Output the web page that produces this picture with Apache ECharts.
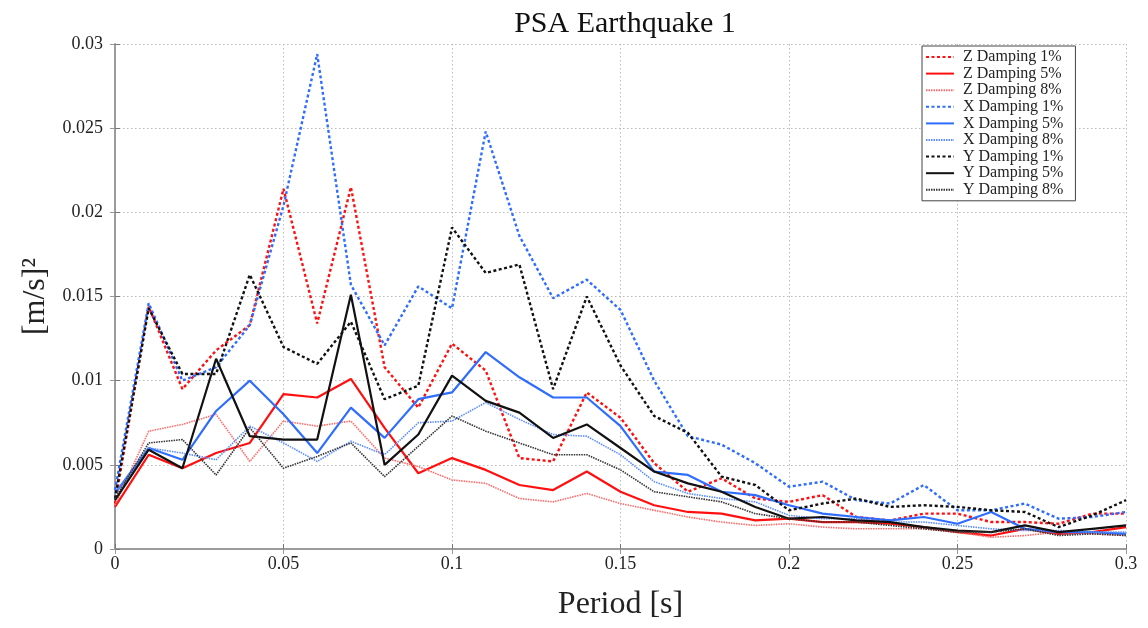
<!DOCTYPE html>
<html><head><meta charset="utf-8">
<script src="https://cdn.jsdelivr.net/npm/echarts@6/dist/echarts.min.js"></script>
<style>html,body{margin:0;padding:0;background:#fff}#c{width:1148px;height:628px}</style>
</head><body><div id="c"></div>
<script>
const periods = [0,0.01,0.02,0.03,0.04,0.05,0.06,0.07,0.08,0.09,0.1,0.11,0.12,0.13,0.14,0.15,0.16,0.17,0.18,0.19,0.2,0.21,0.22,0.23,0.24,0.25,0.26,0.27,0.28,0.29,0.3];
const xTicks = [0,0.05,0.1,0.15,0.2,0.25,0.3];
const yTicks = [0,0.005,0.01,0.015,0.02,0.025,0.03];
const seriesNames = ['Z Damping 1%','Z Damping 5%','Z Damping 8%','X Damping 1%','X Damping 5%','X Damping 8%','Y Damping 1%','Y Damping 5%','Y Damping 8%'];
const z1 = [0.0027,0.0144,0.0095,0.0118,0.0133,0.0214,0.0134,0.0215,0.0108,0.0084,0.0122,0.0106,0.0054,0.0052,0.0093,0.0078,0.0051,0.0034,0.0042,0.0030,0.0028,0.0032,0.0019,0.0017,0.0021,0.0021,0.0016,0.0016,0.0015,0.0021,0.0021];
const z5 = [0.0025,0.0056,0.0048,0.0057,0.0063,0.0092,0.0090,0.0101,0.0072,0.0045,0.0054,0.0047,0.0038,0.0035,0.0046,0.0034,0.0026,0.0022,0.0021,0.0017,0.0018,0.0016,0.0016,0.0015,0.0013,0.0010,0.0008,0.0012,0.0009,0.0010,0.0013];
const z8 = [0.0026,0.0070,0.0074,0.0080,0.0052,0.0076,0.0073,0.0076,0.0054,0.0049,0.0041,0.0039,0.0030,0.0028,0.0033,0.0027,0.0023,0.0019,0.0016,0.0014,0.0015,0.0013,0.0012,0.0012,0.0012,0.0010,0.0007,0.0008,0.0010,0.0009,0.0008];
const x1 = [0.0035,0.0146,0.0100,0.0108,0.0133,0.0204,0.0294,0.0157,0.0121,0.0156,0.0143,0.0248,0.0186,0.0149,0.0160,0.0142,0.0100,0.0067,0.0062,0.0051,0.0037,0.0040,0.0029,0.0027,0.0038,0.0023,0.0023,0.0027,0.0018,0.0019,0.0022];
const x5 = [0.0033,0.0060,0.0053,0.0082,0.0100,0.0080,0.0057,0.0084,0.0066,0.0089,0.0093,0.0117,0.0102,0.0090,0.0090,0.0073,0.0046,0.0044,0.0034,0.0032,0.0026,0.0021,0.0019,0.0017,0.0019,0.0015,0.0022,0.0012,0.0010,0.0010,0.0009];
const x8 = [0.0033,0.0060,0.0057,0.0053,0.0073,0.0063,0.0052,0.0064,0.0056,0.0075,0.0076,0.0087,0.0077,0.0068,0.0067,0.0056,0.0040,0.0033,0.0030,0.0028,0.0020,0.0018,0.0018,0.0016,0.0016,0.0014,0.0012,0.0011,0.0011,0.0010,0.0010];
const y1 = [0.0030,0.0143,0.0104,0.0104,0.0163,0.0120,0.0110,0.0135,0.0089,0.0097,0.0191,0.0164,0.0169,0.0095,0.0150,0.0109,0.0079,0.0069,0.0043,0.0038,0.0023,0.0027,0.0030,0.0025,0.0026,0.0025,0.0023,0.0022,0.0013,0.0020,0.0029];
const y5 = [0.0029,0.0059,0.0048,0.0113,0.0067,0.0065,0.0065,0.0151,0.0050,0.0068,0.0103,0.0088,0.0081,0.0066,0.0074,0.0060,0.0046,0.0039,0.0034,0.0025,0.0018,0.0019,0.0017,0.0016,0.0013,0.0011,0.0010,0.0014,0.0010,0.0012,0.0014];
const y8 = [0.0030,0.0063,0.0065,0.0044,0.0072,0.0048,0.0055,0.0063,0.0043,0.0061,0.0079,0.0070,0.0063,0.0056,0.0056,0.0047,0.0034,0.0031,0.0028,0.0021,0.0018,0.0016,0.0016,0.0014,0.0012,0.0010,0.0010,0.0012,0.0008,0.0009,0.0008];

const valuesList = [z1,z5,z8,x1,x5,x8,y1,y5,y8];
const colors = ['#ff1010','#ff1010','#ff6a6a','#2f6dff','#2f6dff','#5a8cff','#111111','#111111','#333333'];
const styles = [
  {type:[3,2.5], width:2.4},
  {type:'solid', width:2.2},
  {type:[1.5,1], width:1.6},
  {type:[3,2.5], width:2.4},
  {type:'solid', width:2.2},
  {type:[1.5,1], width:1.6},
  {type:[3,2.5], width:2.4},
  {type:'solid', width:2.2},
  {type:[1.5,1], width:1.6}
];
const serif = '"Liberation Serif","DejaVu Serif",serif';
const series = seriesNames.map((n,i)=>({
  name:n, type:'line', symbol:'none', showSymbol:false, animation:false,
  xAxisIndex:0, yAxisIndex:0,
  data: periods.map((p,j)=>[p, valuesList[i][j]]),
  lineStyle:{color:colors[i], width:styles[i].width, type:styles[i].type},
  itemStyle:{color:colors[i]}
}));
const chart = echarts.init(document.getElementById('c'));
chart.setOption({
  backgroundColor:'#fff',
  animation:false,
  title:{text:'PSA Earthquake 1', left:620, textAlign:'center', top:4,
    textStyle:{fontFamily:serif, fontSize:30, fontWeight:'normal', color:'#111'}},
  grid:{left:115, right:22, top:44, bottom:79, show:false},
  legend:{orient:'vertical', left:922, top:46, itemWidth:28, itemHeight:13, itemGap:0.6,
    padding:[3,12,3,3], borderColor:'#444', borderWidth:1, backgroundColor:'#fff',
    itemStyle:{opacity:0},
    textStyle:{fontFamily:serif, fontSize:16, lineHeight:15, color:'#222', padding:[0,0,0,4]},
    data:seriesNames},
  xAxis:[{type:'value', min:0, max:0.3, interval:0.05, position:'bottom',
    name:'Period [s]', nameLocation:'middle', nameGap:40,
    nameTextStyle:{fontFamily:serif, fontSize:32, color:'#222'},
    axisLine:{show:true, lineStyle:{color:'#888', width:1.5}},
    axisTick:{show:true, inside:true, length:5, lineStyle:{color:'#777'}},
    axisLabel:{fontFamily:serif, fontSize:18, color:'#222', margin:6,
      formatter:v=>String(xTicks.find(t=>Math.abs(t-v)<1e-9) ?? v)},
    splitLine:{show:true, lineStyle:{color:'#bbb', type:[1.5,2.5], width:1}}},
   {type:'value', min:0, max:0.3, interval:0.05, position:'top',
    axisLine:{show:true, lineStyle:{color:'#999', width:1.5}},
    axisTick:{show:true, inside:true, length:5, lineStyle:{color:'#999'}},
    axisLabel:{show:false}, splitLine:{show:false}}],
  yAxis:[{type:'value', min:0, max:0.03, interval:0.005, position:'left',
    name:'[m/s]²', nameLocation:'middle', nameGap:56, nameRotate:90,
    nameTextStyle:{fontFamily:serif, fontSize:32, color:'#222'},
    axisLine:{show:true, lineStyle:{color:'#888', width:1.5}},
    axisTick:{show:true, inside:true, length:5, lineStyle:{color:'#777'}},
    axisLabel:{fontFamily:serif, fontSize:18, color:'#222', margin:12,
      formatter:v=>String(yTicks.find(t=>Math.abs(t-v)<1e-9) ?? v)},
    splitLine:{show:true, lineStyle:{color:'#bbb', type:[1.5,2.5], width:1}}},
   {type:'value', min:0, max:0.03, interval:0.005, position:'right',
    axisLine:{show:true, lineStyle:{color:'#999', width:1.5}},
    axisTick:{show:true, inside:true, length:5, lineStyle:{color:'#999'}},
    axisLabel:{show:false}, splitLine:{show:false}}],
  series: series
});
</script></body></html>
